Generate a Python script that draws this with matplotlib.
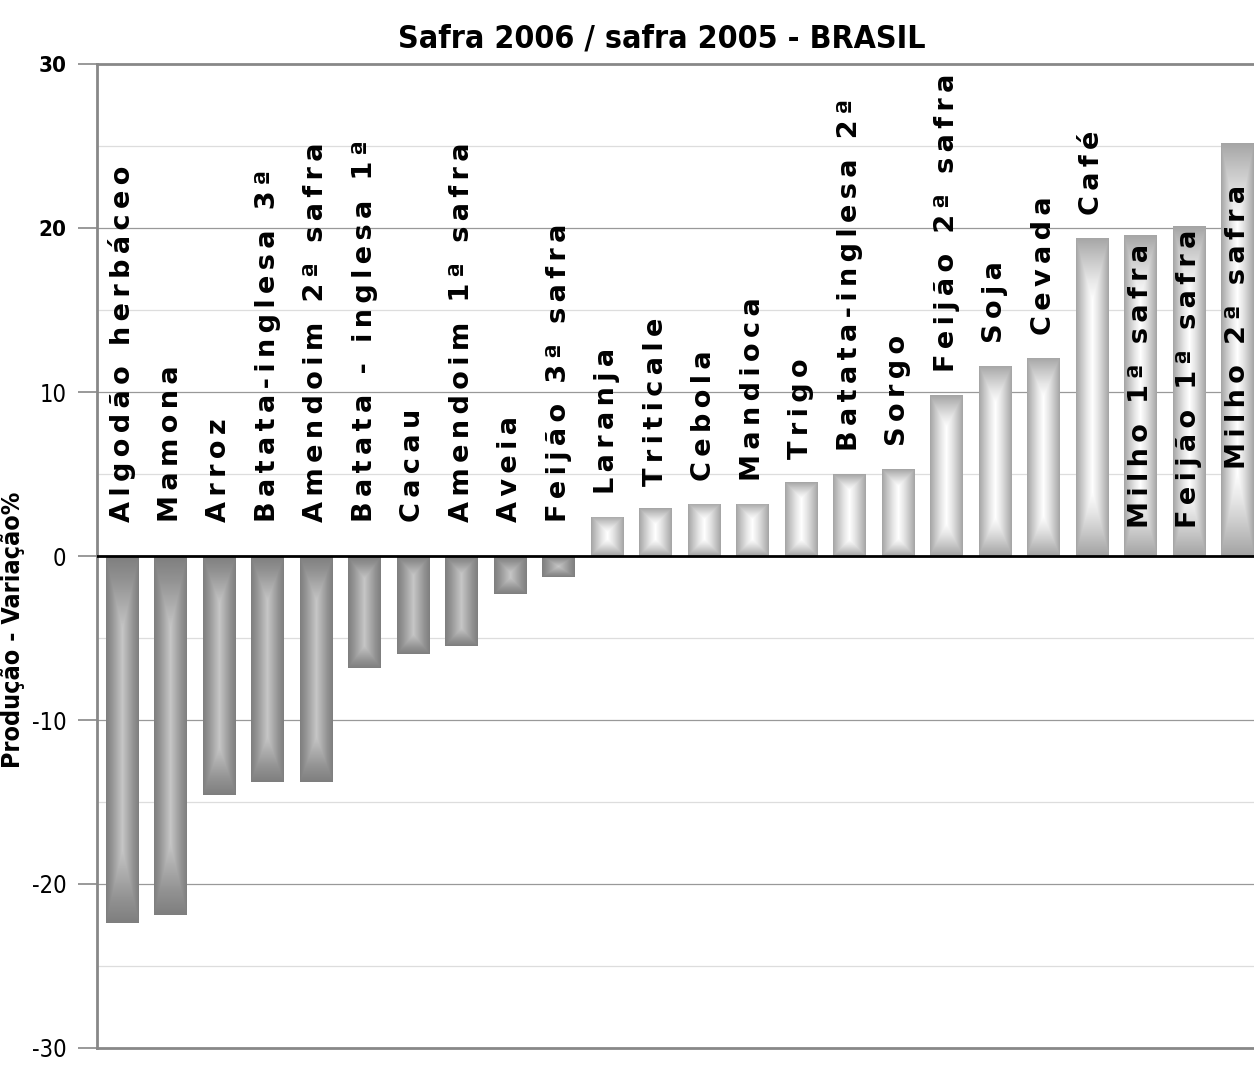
import matplotlib
matplotlib.use("Agg")
import matplotlib.pyplot as plt
import numpy as np

culturas = ["Algodão herbáceo", "Mamona", "Arroz", "Batata-inglesa 3ª",
            "Amendoim 2ª safra", "Batata - inglesa 1ª", "Cacau",
            "Amendoim 1ª safra", "Aveia", "Feijão 3ª safra", "Laranja",
            "Triticale", "Cebola", "Mandioca", "Trigo", "Batata-inglesa 2ª",
            "Sorgo", "Feijão 2ª safra", "Soja", "Cevada", "Café",
            "Milho 1ª safra", "Feijão 1ª safra", "Milho 2ª safra"]
variacao = [-22.4, -21.9, -14.6, -13.8, -13.8, -6.8, -6.0, -5.5, -2.3, -1.3,
            2.4, 2.9, 3.2, 3.2, 4.5, 5.0, 5.3, 9.8, 11.6, 12.1, 19.4, 19.6,
            20.1, 25.2]
# rotulos escritos dentro da barra (ultimas tres)
dentro = ["Milho 1ª safra", "Feijão 1ª safra", "Milho 2ª safra"]
pos_dentro = [1.7, 1.7, 5.3]


def espacado(s):
    # letras afastadas como no grafico original
    return "\u2009".join(s)


fig = plt.figure(figsize=(12.54, 10.66), dpi=100)
ax = fig.add_axes([0.0774, 0.0169, 0.9226, 0.923])
ax.set_xlim(-0.515, 23.34)
ax.set_ylim(-30, 30)

x = np.arange(len(culturas))
bars = ax.bar(x, variacao, width=0.68, color="#8c8c8c", zorder=2)

# degradê em retangulos concentricos (centro claro, bordas cinza)
cmap_neg = matplotlib.colors.LinearSegmentedColormap.from_list(
    "neg", ["#c6c6c6", "#acacac", "#929292", "#7e7e7e"])
cmap_pos = matplotlib.colors.LinearSegmentedColormap.from_list(
    "pos", ["#ffffff", "#e6e6e6", "#c6c6c6", "#a4a4a4"])
sx = abs(ax.transData.transform((1, 0))[0] - ax.transData.transform((0, 0))[0])
sy = abs(ax.transData.transform((0, 1))[1] - ax.transData.transform((0, 0))[1])
for b, v in zip(bars, variacao):
    x0, y0 = b.get_x(), b.get_y()
    w, h = b.get_width(), b.get_height()
    wp, hp = w * sx, abs(h) * sy
    px = np.arange(int(wp) + 1) + 0.5
    py = np.arange(int(hp) + 1) + 0.5
    gx, gy = np.meshgrid(px, py)
    rampa_y = min(hp / 2, max(wp / 2, 0.4 * hp / 2))
    d = np.minimum(np.minimum(gx, wp - gx) / (wp / 2),
                   np.minimum(gy, hp - gy) / rampa_y)
    t = 1 - np.clip(d, 0, 1)
    im = ax.imshow(t, cmap=cmap_neg if v < 0 else cmap_pos,
                   extent=[x0, x0 + w, y0, y0 + h], aspect="auto", zorder=3,
                   interpolation="bilinear", vmin=0, vmax=1)
    im.set_clip_path(b)

for i, (nome, v) in enumerate(zip(culturas, variacao)):
    if nome in dentro:
        yb = pos_dentro[dentro.index(nome)]
    elif v < 0:
        yb = 2.1
    else:
        yb = v + 1.4
    ax.text(i, yb, espacado(nome), rotation=90, ha="center", va="bottom",
            fontsize=19.5, fontweight="bold", family="DejaVu Sans",
            color="black", zorder=5)

ax.axhline(0, color="black", lw=2, zorder=4)
for yy in np.arange(-25, 30, 5):
    if yy == 0:
        continue
    c = "#999999" if yy % 10 == 0 else "#dddddd"
    ax.axhline(yy, color=c, lw=0.9, zorder=1)

ax.set_yticks([-30, -20, -10, 0, 10, 20, 30])
ax.set_yticklabels(["-30", "-20", "-10", "0", "10", "20", "30"],
                   family="DejaVu Sans", stretch="condensed", fontsize=17)
for t in ax.get_yticklabels()[-2:]:
    t.set_fontweight("bold")
    t.set_fontsize(16)
ax.tick_params(axis="y", length=14, color="#888888", width=1.2, pad=8)
ax.set_xticks([])

for s in ["left", "top", "bottom"]:
    ax.spines[s].set_color("#888888")
    ax.spines[s].set_linewidth(2)
ax.spines["right"].set_visible(False)

ax.set_ylabel("Produção - Variação%", family="DejaVu Sans", stretch="condensed",
              fontweight="bold", fontsize=18)
ax.yaxis.set_label_coords(-0.062, 0.425)
fig.text(0.528, 0.963, "Safra 2006 / safra 2005 - BRASIL", ha="center",
         va="center", family="DejaVu Sans", stretch="condensed",
         fontweight="bold", fontsize=23)

fig.savefig("out.png", dpi=100, facecolor="white")
